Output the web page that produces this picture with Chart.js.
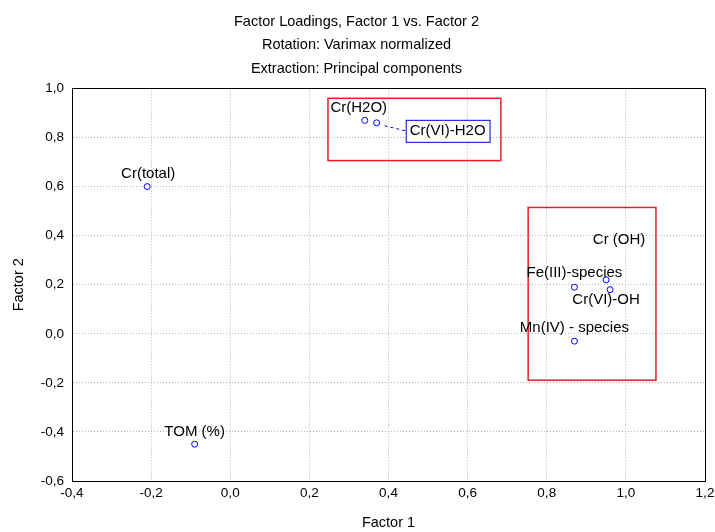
<!DOCTYPE html>
<html>
<head>
<meta charset="utf-8">
<script src="https://cdn.jsdelivr.net/npm/chart.js@4"></script>
<style>
  html, body { margin: 0; padding: 0; background: #fff; }
  #wrap { width: 715px; height: 532px; position: relative; }
</style>
</head>
<body>
<div id="wrap"><canvas id="loadings-chart"></canvas></div>
<script>
// variables and their loadings on the two factors
const variables = ['Cr(total)', 'TOM (%)', 'Cr(H2O)', 'Cr(VI)-H2O', 'Fe(III)-species', 'Cr (OH)', 'Cr(VI)-OH', 'Mn(IV) - species'];
const factor1 = [-0.21, -0.09, 0.34, 0.37, 0.87, 0.95, 0.96, 0.87];
const factor2 = [0.60, -0.45, 0.87, 0.86, 0.19, 0.22, 0.18, -0.03];

const xTicks = [-0.4, -0.2, 0.0, 0.2, 0.4, 0.6, 0.8, 1.0, 1.2];
const yTicks = [-0.6, -0.4, -0.2, 0.0, 0.2, 0.4, 0.6, 0.8, 1.0];

// grouping rectangles (factor units): [x1, y1, x2, y2]
const groupBoxes = [
    [0.247, 0.96, 0.684, 0.706],
    [0.753, 0.515, 1.076, -0.189]
];

// label placement relative to the point, in pixels
const labelOffsets = [[1, -13], [0, -12], [-6, -13], [71, 8], [0, -14], [13, -40], [-4, 10], [0, -13]];

const comma = v => v.toFixed(1).replace('.', ',');
const FONT = 'Liberation Sans, Arial, sans-serif';

const annotate = {
    id: 'annotate',
    afterDatasetsDraw(chart) {
        const ctx = chart.ctx;
        const xs = chart.scales.x, ys = chart.scales.y;
        ctx.save();
        ctx.strokeStyle = '#ee1c24';
        ctx.lineWidth = 1.5;
        groupBoxes.forEach(b => {
            const x1 = xs.getPixelForValue(b[0]), y1 = ys.getPixelForValue(b[1]);
            const x2 = xs.getPixelForValue(b[2]), y2 = ys.getPixelForValue(b[3]);
            ctx.strokeRect(x1, y1, x2 - x1, y2 - y1);
        });
        ctx.font = '15px ' + FONT;
        ctx.textAlign = 'center';
        ctx.textBaseline = 'middle';
        variables.forEach((name, i) => {
            const px = xs.getPixelForValue(factor1[i]);
            const py = ys.getPixelForValue(factor2[i]);
            const tx = px + labelOffsets[i][0], ty = py + labelOffsets[i][1];
            if (name === 'Cr(VI)-H2O') {
                const w = ctx.measureText(name).width + 8;
                ctx.strokeStyle = '#0000cc';
                ctx.lineWidth = 1;
                ctx.setLineDash([3, 3]);
                ctx.beginPath();
                ctx.moveTo(px + 8, py + 3);
                ctx.lineTo(tx - w / 2, ty);
                ctx.stroke();
                ctx.setLineDash([]);
                ctx.fillStyle = '#fff';
                ctx.fillRect(tx - w / 2, ty - 11, w, 22);
                ctx.strokeRect(tx - w / 2 + 0.5, ty - 11 + 0.5, w, 22);
            }
            ctx.fillStyle = '#000';
            ctx.fillText(name, tx, ty);
        });
        ctx.restore();
    }
};

const ctx = document.getElementById('loadings-chart').getContext('2d');
new Chart(ctx, {
    type: 'scatter',
    data: {
        datasets: [{
            data: variables.map((v, i) => ({ x: factor1[i], y: factor2[i] })),
            pointStyle: 'circle',
            pointRadius: 3,
            pointHoverRadius: 3,
            borderColor: '#0000ff',
            backgroundColor: '#ffffff',
            borderWidth: 1
        }]
    },
    options: {
        responsive: true,
        maintainAspectRatio: false,
        animation: false,
        layout: { padding: { left: 0, right: 2, top: 4, bottom: 0 } },
        plugins: {
            legend: { display: false },
            tooltip: { enabled: false },
            title: {
                display: true,
                text: ['Factor Loadings, Factor 1 vs. Factor 2', 'Rotation: Varimax normalized', 'Extraction: Principal components'],
                color: '#000',
                font: { family: FONT, size: 14.5, weight: 'normal', lineHeight: 1.62 },
                padding: { top: 6, bottom: 8 }
            }
        },
        scales: {
            x: {
                type: 'linear',
                min: -0.4,
                max: 1.2,
                afterBuildTicks: s => { s.ticks = xTicks.map(v => ({ value: v })); },
                afterFit: s => { s.height = 51; s.paddingRight = 10; },
                ticks: {
                    color: '#000',
                    font: { family: FONT, size: 13.5 },
                    padding: 4,
                    callback: v => comma(v)
                },
                grid: {
                    color: '#b4b4b4',
                    drawTicks: false
                },
                border: { color: '#000', width: 1, dash: [1, 2] },
                title: {
                    display: true,
                    text: 'Factor 1',
                    color: '#000',
                    font: { family: FONT, size: 14.5 },
                    padding: { top: 14, bottom: 0 }
                }
            },
            y: {
                type: 'linear',
                min: -0.6,
                max: 1.0,
                afterBuildTicks: s => { s.ticks = yTicks.map(v => ({ value: v })); },
                afterFit: s => { s.width = 72; },
                ticks: {
                    color: '#000',
                    font: { family: FONT, size: 13.5 },
                    padding: 8,
                    callback: v => comma(v)
                },
                grid: {
                    color: '#b4b4b4',
                    drawTicks: false
                },
                border: { color: '#000', width: 1, dash: [1, 2] },
                title: {
                    display: true,
                    text: 'Factor 2',
                    color: '#000',
                    font: { family: FONT, size: 14.5 },
                    padding: { top: 10, bottom: 4 }
                }
            }
        }
    },
    plugins: [annotate, {
        id: 'frame',
        beforeDatasetsDraw(chart) {
            const a = chart.chartArea, c = chart.ctx;
            c.save();
            c.strokeStyle = '#000';
            c.lineWidth = 1;
            c.strokeRect(Math.round(a.left) + 0.5, Math.round(a.top) + 0.5, Math.round(a.right - a.left), Math.round(a.bottom - a.top));
            c.restore();
        }
    }]
});
</script>
</body>
</html>
